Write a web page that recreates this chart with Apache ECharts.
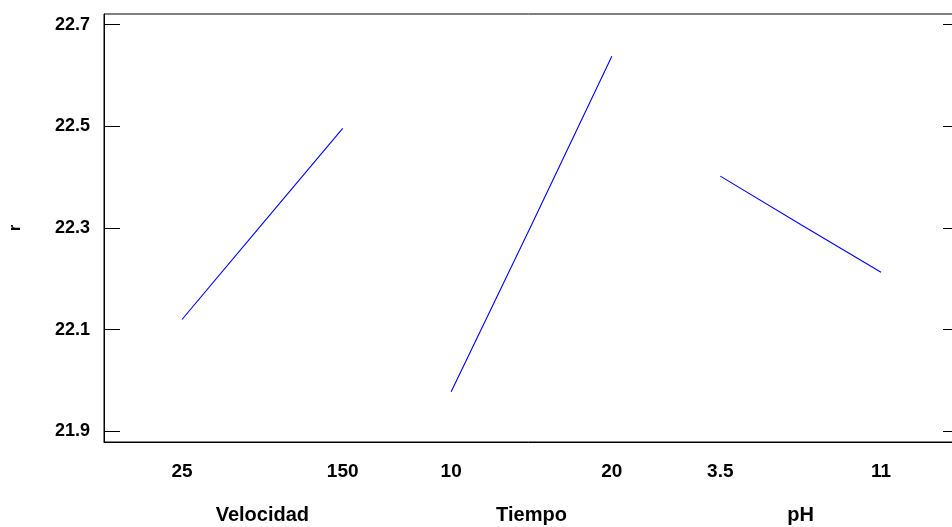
<!DOCTYPE html>
<html>
<head>
<meta charset="utf-8">
<script src="https://cdn.jsdelivr.net/npm/echarts@6/dist/echarts.min.js"></script>
<style>
html,body{margin:0;padding:0;background:#fff;}
#chart{width:952px;height:527px;}
</style>
</head>
<body>
<div id="chart"></div>
<script>
// ---- data ----
var factors = ['Velocidad', 'Tiempo', 'pH'];
var levelLabels = [['25', '150'], ['10', '20'], ['3.5', '11']];
var velocidadR = [22.120, 22.308, 22.496];
var tiempoR = [21.978, 22.306, 22.638];
var phR = [22.402, 22.307, 22.213];
var yTicks = [21.9, 22.1, 22.3, 22.5, 22.7];
var yName = 'r';

// ---- layout of factor segments on a shared value axis ----
var margin = 0.4854, gap = 0.675;
var allValues = [velocidadR, tiempoR, phR];
function segStart(i) { return i * (1 + gap); }
var xMin = -margin, xMax = 3 + 2 * gap + margin;

var tickPos = [], tickText = {};
levelLabels.forEach(function (lv, i) {
  var a = segStart(i), b = segStart(i) + 1;
  tickPos.push(a, b);
  tickText[a.toFixed(4)] = lv[0];
  tickText[b.toFixed(4)] = lv[1];
});
var namePos = [], nameText = {};
factors.forEach(function (f, i) {
  var c = segStart(i) + 0.5;
  namePos.push(c);
  nameText[c.toFixed(4)] = f;
});

var FONT = '"Liberation Sans", Arial, sans-serif';

var series = allValues.map(function (vals, i) {
  var n = vals.length;
  return {
    type: 'line',
    xAxisIndex: 0,
    yAxisIndex: 0,
    data: vals.map(function (v, k) { return [segStart(i) + k / (n - 1), v]; }),
    showSymbol: false,
    symbol: 'none',
    lineStyle: { color: '#0000ff', width: 1.1 },
    silent: true,
    animation: false
  };
});

var chart = echarts.init(document.getElementById('chart'));
chart.setOption({
  animation: false,
  backgroundColor: '#ffffff',
  grid: { left: 104, top: 14, right: -7, bottom: 85, containLabel: false, outerBoundsMode: 'none',
          show: true, borderColor: '#000', borderWidth: 1, backgroundColor: 'transparent' },
  xAxis: [{
    type: 'value', min: xMin, max: xMax, position: 'bottom',
    axisLine: { show: true, onZero: false, lineStyle: { color: '#000', width: 1 } },
    axisTick: { show: false },
    splitLine: { show: false },
    axisLabel: {
      customValues: tickPos,
      margin: 20,
      color: '#000', fontFamily: FONT, fontWeight: 'bold', fontSize: 19,
      formatter: function (v) { return tickText[v.toFixed(4)] || ''; }
    }
  }, {
    type: 'value', min: xMin, max: xMax, position: 'bottom',
    axisLine: { show: false, onZero: false },
    axisTick: { show: false },
    splitLine: { show: false },
    axisLabel: {
      customValues: namePos,
      margin: 63,
      color: '#000', fontFamily: FONT, fontWeight: 'bold', fontSize: 20,
      formatter: function (v) { return nameText[v.toFixed(4)] || ''; }
    }
  }],
  yAxis: [{
    type: 'value', min: 21.879, max: 22.721, position: 'left',
    name: yName, nameLocation: 'middle', nameGap: 80, nameRotate: 90,
    nameTextStyle: { color: '#000', fontFamily: FONT, fontWeight: 'bold', fontSize: 17 },
    axisLine: { show: true, onZero: false, lineStyle: { color: '#000', width: 1 } },
    axisTick: { show: true, inside: true, length: 16, customValues: yTicks, lineStyle: { color: '#000', width: 1 } },
    splitLine: { show: false },
    axisLabel: {
      customValues: yTicks, margin: 14,
      color: '#000', fontFamily: FONT, fontWeight: 'bold', fontSize: 18,
      formatter: function (v) { return v.toFixed(1); }
    }
  }, {
    type: 'value', min: 21.879, max: 22.721, position: 'right',
    axisLine: { show: true, onZero: false, lineStyle: { color: '#000', width: 1 } },
    axisTick: { show: true, inside: true, length: 16, customValues: yTicks, lineStyle: { color: '#000', width: 1 } },
    splitLine: { show: false },
    axisLabel: { show: false }
  }],
  series: series
});
</script>
</body>
</html>
